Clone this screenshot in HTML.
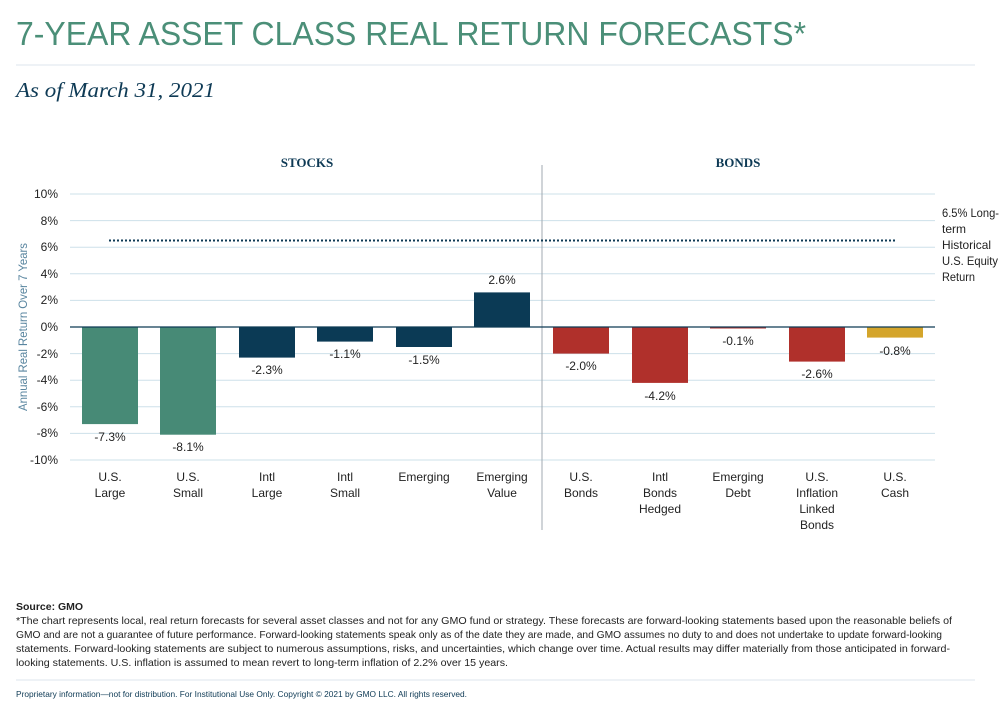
<!DOCTYPE html>
<html><head><meta charset="utf-8"><style>
body{margin:0;background:#fff;}
svg text{font-family:"Liberation Sans",sans-serif;}
</style></head><body>
<svg width="1006" height="709" viewBox="0 0 1006 709" xmlns="http://www.w3.org/2000/svg">
<text x="16" y="45" font-size="33" fill="#4b8f78" textLength="790" lengthAdjust="spacingAndGlyphs">7-YEAR ASSET CLASS REAL RETURN FORECASTS*</text>
<line x1="16" y1="65" x2="975" y2="65" stroke="#dde6ec" stroke-width="1"/>
<text x="16" y="97" font-size="21" font-style="italic" fill="#0e3a55" style="font-family:'Liberation Serif',serif" textLength="199" lengthAdjust="spacingAndGlyphs">As of March 31, 2021</text>
<text x="307" y="167" font-size="13" font-weight="bold" fill="#0e3a55" text-anchor="middle" style="font-family:'Liberation Serif',serif">STOCKS</text>
<text x="738" y="167" font-size="13" font-weight="bold" fill="#0e3a55" text-anchor="middle" style="font-family:'Liberation Serif',serif">BONDS</text>
<g stroke="#cde0ea" stroke-width="1">
<line x1="70" y1="194" x2="935" y2="194"/><line x1="70" y1="220.6" x2="935" y2="220.6"/><line x1="70" y1="247.2" x2="935" y2="247.2"/><line x1="70" y1="273.8" x2="935" y2="273.8"/><line x1="70" y1="300.4" x2="935" y2="300.4"/><line x1="70" y1="353.6" x2="935" y2="353.6"/><line x1="70" y1="380.2" x2="935" y2="380.2"/><line x1="70" y1="406.8" x2="935" y2="406.8"/><line x1="70" y1="433.4" x2="935" y2="433.4"/><line x1="70" y1="460" x2="935" y2="460"/>
</g>
<g font-size="12" fill="#222" text-anchor="end">
<text x="58" y="198">10%</text><text x="58" y="225">8%</text><text x="58" y="251">6%</text><text x="58" y="278">4%</text><text x="58" y="304">2%</text><text x="58" y="331">0%</text><text x="58" y="358">-2%</text><text x="58" y="384">-4%</text><text x="58" y="411">-6%</text><text x="58" y="437">-8%</text><text x="58" y="464">-10%</text>
</g>
<text transform="translate(27,327) rotate(-90)" font-size="12" fill="#5a86a0" text-anchor="middle" textLength="168" lengthAdjust="spacingAndGlyphs">Annual Real Return Over 7 Years</text>
<line x1="542" y1="165" x2="542" y2="530" stroke="#a0a8b0" stroke-width="1"/>
<g>
<rect x="82" y="327" width="56" height="97.1" fill="#478a76"/>
<rect x="160" y="327" width="56" height="107.7" fill="#478a76"/>
<rect x="239" y="327" width="56" height="30.6" fill="#0b3a55"/>
<rect x="317" y="327" width="56" height="14.6" fill="#0b3a55"/>
<rect x="396" y="327" width="56" height="20" fill="#0b3a55"/>
<rect x="474" y="292.4" width="56" height="34.6" fill="#0b3a55"/>
<rect x="553" y="327" width="56" height="26.6" fill="#b0302b"/>
<rect x="632" y="327" width="56" height="55.9" fill="#b0302b"/>
<rect x="710" y="327" width="56" height="1.5" fill="#b0302b"/>
<rect x="789" y="327" width="56" height="34.6" fill="#b0302b"/>
<rect x="867" y="327" width="56" height="10.6" fill="#d4a52b"/>
</g>
<line x1="70" y1="327" x2="935" y2="327" stroke="#0e3a55" stroke-width="1.3"/>
<line x1="109" y1="240.5" x2="895" y2="240.5" stroke="#0e3a55" stroke-width="2" stroke-dasharray="2,2"/>
<g font-size="12" fill="#222" text-anchor="middle">
<text x="110" y="441">-7.3%</text><text x="188" y="451">-8.1%</text><text x="267" y="374">-2.3%</text><text x="345" y="358">-1.1%</text><text x="424" y="364">-1.5%</text><text x="502" y="284">2.6%</text><text x="581" y="370">-2.0%</text><text x="660" y="400">-4.2%</text><text x="738" y="345">-0.1%</text><text x="817" y="378">-2.6%</text><text x="895" y="355">-0.8%</text>
</g>
<g font-size="12" fill="#222" text-anchor="middle">
<text x="110" y="481">U.S.</text><text x="110" y="497">Large</text>
<text x="188" y="481">U.S.</text><text x="188" y="497">Small</text>
<text x="267" y="481">Intl</text><text x="267" y="497">Large</text>
<text x="345" y="481">Intl</text><text x="345" y="497">Small</text>
<text x="424" y="481">Emerging</text>
<text x="502" y="481">Emerging</text><text x="502" y="497">Value</text>
<text x="581" y="481">U.S.</text><text x="581" y="497">Bonds</text>
<text x="660" y="481">Intl</text><text x="660" y="497">Bonds</text><text x="660" y="513">Hedged</text>
<text x="738" y="481">Emerging</text><text x="738" y="497">Debt</text>
<text x="817" y="481">U.S.</text><text x="817" y="497">Inflation</text><text x="817" y="513">Linked</text><text x="817" y="529">Bonds</text>
<text x="895" y="481">U.S.</text><text x="895" y="497">Cash</text>
</g>
<g font-size="12" fill="#222">
<text x="942" y="217" textLength="57" lengthAdjust="spacingAndGlyphs">6.5% Long-</text><text x="942" y="233">term</text><text x="942" y="249" textLength="49" lengthAdjust="spacingAndGlyphs">Historical</text><text x="942" y="265" textLength="56" lengthAdjust="spacingAndGlyphs">U.S. Equity</text><text x="942" y="281" textLength="33" lengthAdjust="spacingAndGlyphs">Return</text>
</g>
<text x="16" y="610" font-size="10.5" font-weight="bold" fill="#222">Source: GMO</text>
<g font-size="10.5" fill="#222">
<text x="16" y="624" textLength="936" lengthAdjust="spacingAndGlyphs">*The chart represents local, real return forecasts for several asset classes and not for any GMO fund or strategy. These forecasts are forward-looking statements based upon the reasonable beliefs of</text>
<text x="16" y="638" textLength="926" lengthAdjust="spacingAndGlyphs">GMO and are not a guarantee of future performance. Forward-looking statements speak only as of the date they are made, and GMO assumes no duty to and does not undertake to update forward-looking</text>
<text x="16" y="652" textLength="934" lengthAdjust="spacingAndGlyphs">statements. Forward-looking statements are subject to numerous assumptions, risks, and uncertainties, which change over time. Actual results may differ materially from those anticipated in forward-</text>
<text x="16" y="666" textLength="492" lengthAdjust="spacingAndGlyphs">looking statements. U.S. inflation is assumed to mean revert to long-term inflation of 2.2% over 15 years.</text>
</g>
<line x1="16" y1="680" x2="975" y2="680" stroke="#dde6ec" stroke-width="1"/>
<text x="16" y="697" font-size="8.5" fill="#0e3a55" textLength="451" lengthAdjust="spacingAndGlyphs">Proprietary information—not for distribution. For Institutional Use Only. Copyright © 2021 by GMO LLC. All rights reserved.</text>
</svg>
</body></html>
